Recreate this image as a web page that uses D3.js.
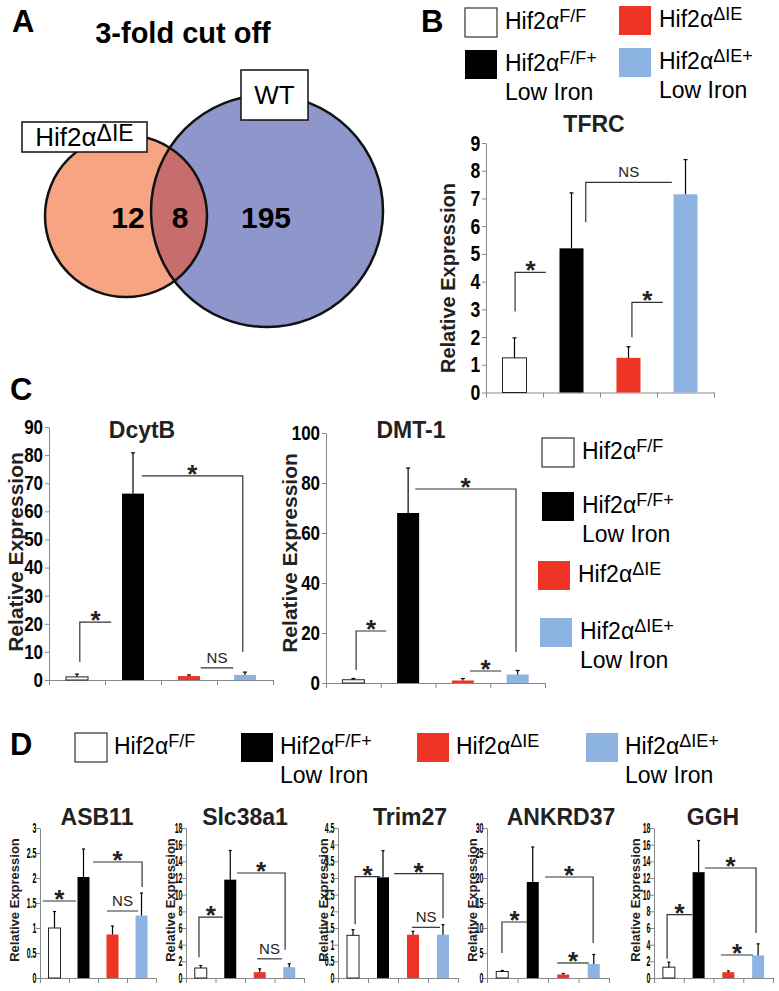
<!DOCTYPE html>
<html>
<head>
<meta charset="utf-8">
<script src="https://cdn.jsdelivr.net/npm/d3@7"></script>
<style>
  body { margin: 0; background: #fff; }
  svg { display: block; font-family: "Liberation Sans", Arial, sans-serif; }
</style>
</head>
<body>
<svg id="fig" width="779" height="991"></svg>
<script>
// ---- data ----
var groupBase = ["Hif2α", "Hif2α", "Hif2α", "Hif2α"];
var groupSup = ["F/F", "F/F+", "ΔIE", "ΔIE+"];
var groupLine2 = ["", "Low Iron", "", "Low Iron"];
var groupColors = ["#ffffff", "#000000", "#ee3424", "#8db3e2"];

var vennBase = ["Hif2α", "WT"];
var vennSup = ["ΔIE", ""];
var vennCounts = [12, 8, 195];   // only left, overlap, only right

var tfrcMean = [1.25, 5.2, 1.25, 7.15];
var tfrcSd = [0.72, 2.0, 0.4, 1.25];
var tfrcTicks = [0, 1, 2, 3, 4, 5, 6, 7, 8, 9];

var dcytbMean = [1.1, 66.3, 1.4, 1.8];
var dcytbSd = [1.0, 14.5, 0.4, 1.0];
var dcytbTicks = [0, 10, 20, 30, 40, 50, 60, 70, 80, 90];

var dmt1Mean = [1.3, 68, 1.0, 3.4];
var dmt1Sd = [0.5, 18, 0.8, 1.6];
var dmt1Ticks = [0, 20, 40, 60, 80, 100];

var asb11Mean = [1.0, 2.02, 0.87, 1.25];
var asb11Sd = [0.33, 0.56, 0.17, 0.45];
var asb11Ticks = [0, 0.5, 1, 1.5, 2, 2.5, 3];

var slcMean = [1.2, 11.8, 0.7, 1.3];
var slcSd = [0.3, 3.5, 0.4, 0.4];
var slcTicks = [0, 2, 4, 6, 8, 10, 12, 14, 16, 18];

var trimMean = [1.28, 3.02, 1.3, 1.3];
var trimSd = [0.17, 0.8, 0.1, 0.3];
var trimTicks = [0, 0.5, 1, 1.5, 2, 2.5, 3, 3.5, 4, 4.5];

var ankMean = [1.3, 19.2, 0.7, 2.8];
var ankSd = [0.2, 7, 0.2, 1.9];
var ankTicks = [0, 5, 10, 15, 20, 25, 30];

var gghMean = [1.3, 12.7, 0.7, 2.7];
var gghSd = [0.6, 3.8, 0.15, 1.4];
var gghTicks = [0, 2, 4, 6, 8, 10, 12, 14, 16, 18];

// significance brackets, x in category units (0..4), y in data units
var tfrcSig = [
  {x1: 0.51, x2: 1.05, y: 4.33, drop: 2.92, side: "L", label: "*"},
  {x1: 2.56, x2: 3.1, y: 3.25, drop: 1.99, side: "L", label: "*"},
  {x1: 1.75, x2: 3.26, y: 7.58, drop: 6.14, side: "L", label: "NS"}
];
var dcytbSig = [
  {x1: 0.55, x2: 1.11, y: 20.6, drop: 6.4, side: "L", label: "*"},
  {x1: 1.66, x2: 3.46, y: 72.6, drop: 10, side: "R", label: "*"},
  {x1: 2.71, x2: 3.29, y: 4.3, side: "H", label: "NS"}
];
var dmt1Sig = [
  {x1: 0.55, x2: 1.1, y: 20.8, drop: 5.2, side: "L", label: "*"},
  {x1: 1.63, x2: 3.47, y: 77.6, drop: 12.4, side: "R", label: "*"},
  {x1: 2.63, x2: 3.2, y: 4.8, side: "H", label: "*"}
];
var asb11Sig = [
  {x1: 0.1, x2: 1.24, y: 1.54, side: "H", label: "*"},
  {x1: 1.83, x2: 3.52, y: 2.32, drop: 1.82, side: "R", label: "*"},
  {x1: 2.31, x2: 3.38, y: 1.34, side: "H", label: "NS"}
];
var slcSig = [
  {x1: 0.44, x2: 1.25, y: 7.3, drop: 2.5, side: "L", label: "*"},
  {x1: 1.73, x2: 3.36, y: 12.6, drop: 3.4, side: "R", label: "*"},
  {x1: 2.41, x2: 3.25, y: 2.3, side: "H", label: "NS"}
];
var trimSig = [
  {x1: 0.57, x2: 1.4, y: 3.04, drop: 1.61, side: "L", label: "*"},
  {x1: 1.87, x2: 3.5, y: 3.13, drop: 1.79, side: "R", label: "*"},
  {x1: 2.47, x2: 3.4, y: 1.52, side: "H", label: "NS"}
];
var ankSig = [
  {x1: 0.49, x2: 1.31, y: 11.2, drop: 5, side: "L", label: "*"},
  {x1: 1.9, x2: 3.48, y: 20.2, drop: 7, side: "R", label: "*"},
  {x1: 2.3, x2: 3.34, y: 3, side: "H", label: "*"}
];
var gghSig = [
  {x1: 0.44, x2: 1.28, y: 7.6, drop: 2.3, side: "L", label: "*"},
  {x1: 1.71, x2: 3.43, y: 13.2, drop: 5.4, side: "R", label: "*"},
  {x1: 2.25, x2: 3.33, y: 2.76, side: "H", label: "*"}
];

// ---- drawing ----
var svg = d3.select("#fig");
var NARROW = "'Liberation Sans Narrow', 'Liberation Sans', Arial, sans-serif";

function panelLetter(t, x, y) {
  svg.append("text").attr("x", x).attr("y", y).text(t)
    .attr("font-size", 31).attr("font-weight", "bold");
}

panelLetter("A", 12, 32);
panelLetter("B", 421, 32);
panelLetter("C", 10, 400);
panelLetter("D", 10, 755);

// ---- panel A: venn ----
var cL = {x: 126, y: 216, r: 81}, cR = {x: 267, y: 211, r: 116};

svg.append("text").attr("x", 183).attr("y", 43).attr("text-anchor", "middle")
  .attr("font-size", 29).attr("font-weight", "bold").text("3-fold cut off");

svg.append("defs").append("clipPath").attr("id", "clipWT")
  .append("circle").attr("cx", cR.x).attr("cy", cR.y).attr("r", cR.r);

svg.append("circle").attr("cx", cL.x).attr("cy", cL.y).attr("r", cL.r).attr("fill", "#f6a482");
svg.append("circle").attr("cx", cR.x).attr("cy", cR.y).attr("r", cR.r).attr("fill", "#8f96cb");
svg.append("circle").attr("cx", cL.x).attr("cy", cL.y).attr("r", cL.r).attr("fill", "#c76d6d")
  .attr("clip-path", "url(#clipWT)");
[cL, cR].forEach(function(c) {
  svg.append("circle").attr("cx", c.x).attr("cy", c.y).attr("r", c.r)
    .attr("fill", "none").attr("stroke", "#111").attr("stroke-width", 2.5);
});

var countX = [128, 180, 266];
countX.forEach(function(x, i) {
  svg.append("text").attr("x", x).attr("y", 228).attr("text-anchor", "middle")
    .attr("font-size", 30).attr("font-weight", "bold").text(vennCounts[i]);
});

var vennBoxes = [{x: 22, y: 122, w: 125, h: 30}, {x: 241, y: 70, w: 67, h: 50}];
vennBoxes.forEach(function(b, i) {
  svg.append("rect").attr("x", b.x).attr("y", b.y).attr("width", b.w).attr("height", b.h)
    .attr("fill", "#fff").attr("stroke", "#111").attr("stroke-width", 1.5);
  var t = svg.append("text").attr("x", b.x + b.w / 2).attr("y", b.y + b.h / 2 + 9)
    .attr("text-anchor", "middle").attr("font-size", 26);
  t.append("tspan").text(vennBase[i]);
  if (vennSup[i]) t.append("tspan").attr("dy", -5).attr("font-size", 23).text(vennSup[i]);
});

// ---- legends ----
function legend(items, fs, supFs, dx) {
  items.forEach(function(p, i) {
    svg.append("rect").attr("x", p.x).attr("y", p.y).attr("width", 32).attr("height", 29)
      .attr("fill", groupColors[i]).attr("stroke", i === 0 ? "#333" : "none").attr("stroke-width", 1.2);
    var t = svg.append("text").attr("x", p.x + dx).attr("y", p.y + 21).attr("font-size", fs);
    t.append("tspan").text(groupBase[i]);
    t.append("tspan").attr("dy", -7).attr("font-size", supFs).text(groupSup[i]);
    if (groupLine2[i]) {
      svg.append("text").attr("x", p.x + dx).attr("y", p.y + 50).attr("font-size", fs).text(groupLine2[i]);
    }
  });
}

legend([{x: 465, y: 8}, {x: 465, y: 50}, {x: 619, y: 6}, {x: 619, y: 48}], 23, 18, 40);
legend([{x: 542, y: 438}, {x: 542, y: 492}, {x: 538, y: 561}, {x: 540, y: 618}], 23, 18, 40);
legend([{x: 75, y: 733}, {x: 241, y: 733}, {x: 417, y: 733}, {x: 586, y: 733}], 23, 18, 39);

// ---- bar charts ----
function barChart(c) {
  var g = svg.append("g");
  var x = d3.scaleLinear().domain([0, 4]).range([c.left, c.left + c.width]);
  var y = d3.scaleLinear().domain([0, c.ticks[c.ticks.length - 1]]).range([c.bottom, c.top]);

  var ya = g.append("g").attr("transform", "translate(" + c.left + ",0)")
    .call(d3.axisLeft(y).tickValues(c.ticks).tickSize(4).tickSizeOuter(0).tickPadding(3)
      .tickFormat(function(d) { return String(d); }));
  ya.select(".domain").attr("stroke", "#888");
  ya.selectAll(".tick line").attr("stroke", "#888");
  ya.selectAll(".tick text")
    .attr("font-family", NARROW).attr("font-weight", "bold")
    .attr("font-size", c.tickFs).attr("fill", "#000")
    .attr("transform", "scale(" + c.tickSx + ",1)");

  var xa = g.append("g").attr("transform", "translate(0," + c.bottom + ")")
    .call(d3.axisBottom(x).tickValues([0, 1, 2, 3, 4]).tickSize(5).tickSizeOuter(0).tickFormat(""));
  xa.select(".domain").attr("stroke", "#888");
  xa.selectAll(".tick line").attr("stroke", "#888");

  g.selectAll("rect.bar").data(c.mean).join("rect").attr("class", "bar")
    .attr("x", function(d, i) { return x(i + 0.5) - c.barW / 2; })
    .attr("y", function(d) { return y(d); })
    .attr("width", c.barW)
    .attr("height", function(d) { return y(0) - y(d); })
    .attr("fill", function(d, i) { return groupColors[i]; })
    .attr("stroke", function(d, i) { return i === 0 ? "#222" : "none"; })
    .attr("stroke-width", 1);

  c.mean.forEach(function(m, i) {
    var cx = x(i + 0.5), top = y(m + c.sd[i]);
    g.append("line").attr("x1", cx).attr("x2", cx).attr("y1", y(m)).attr("y2", top)
      .attr("stroke", "#000").attr("stroke-width", 1.2);
    g.append("line").attr("x1", cx - c.cap / 2).attr("x2", cx + c.cap / 2).attr("y1", top).attr("y2", top)
      .attr("stroke", "#000").attr("stroke-width", 1.2);
  });

  c.sig.forEach(function(s) {
    var x1 = x(s.x1), x2 = x(s.x2), yy = y(s.y), p;
    if (s.side === "L") p = "M" + x1 + "," + y(s.drop) + "V" + yy + "H" + x2;
    else if (s.side === "R") p = "M" + x1 + "," + yy + "H" + x2 + "V" + y(s.drop);
    else p = "M" + x1 + "," + yy + "H" + x2;
    g.append("path").attr("d", p).attr("fill", "none").attr("stroke", "#333").attr("stroke-width", 1.2);
    var t = g.append("text").attr("x", (x1 + x2) / 2).attr("text-anchor", "middle").text(s.label);
    if (s.label === "NS") {
      t.attr("y", yy - 5).attr("font-family", NARROW).attr("font-size", 15).attr("fill", "#222");
    } else {
      t.attr("y", yy + 7).attr("font-size", 26).attr("font-weight", "bold").attr("fill", "#222");
    }
  });

  g.append("text").attr("transform", "translate(" + c.labelX + "," + c.labelY + ") rotate(-90)")
    .attr("text-anchor", "middle").attr("dominant-baseline", "central")
    .attr("font-size", c.labelFs).attr("font-weight", "bold").attr("fill", "#222")
    .text("Relative Expression");

  g.append("text").attr("x", c.titleX).attr("y", c.titleY).attr("text-anchor", "middle")
    .attr("font-size", c.titleFs).attr("font-weight", "bold").attr("fill", "#222").text(c.name);
}

var big = {barW: 24, cap: 4, tickFs: 22, tickSx: 0.8, labelFs: 20, titleFs: 23};
var small = {top: 828, bottom: 978, barW: 12, cap: 3, tickFs: 14, tickSx: 0.5, labelFs: 13,
  labelY: 900, titleY: 825, titleFs: 23};

var charts = [
  Object.assign({}, big, {name: "TFRC", mean: tfrcMean, sd: tfrcSd, ticks: tfrcTicks, sig: tfrcSig,
    left: 486, width: 228, top: 143, bottom: 392.5, labelX: 448, labelY: 278, titleX: 594, titleY: 132}),
  Object.assign({}, big, {name: "DcytB", mean: dcytbMean, sd: dcytbSd, ticks: dcytbTicks, sig: dcytbSig,
    left: 49, width: 224, top: 427, bottom: 680, barW: 22, tickFs: 20, tickSx: 0.85, labelFs: 21,
    labelX: 15, labelY: 552, titleX: 142, titleY: 438}),
  Object.assign({}, big, {name: "DMT-1", mean: dmt1Mean, sd: dmt1Sd, ticks: dmt1Ticks, sig: dmt1Sig,
    left: 326, width: 219, top: 433, bottom: 683, barW: 22, tickFs: 20, tickSx: 0.85, labelFs: 21,
    labelX: 289, labelY: 553, titleX: 411, titleY: 438}),
  Object.assign({}, small, {name: "ASB11", mean: asb11Mean, sd: asb11Sd, ticks: asb11Ticks, sig: asb11Sig,
    left: 40, width: 116, labelX: 14, titleX: 97}),
  Object.assign({}, small, {name: "Slc38a1", mean: slcMean, sd: slcSd, ticks: slcTicks, sig: slcSig,
    left: 186, width: 118, labelX: 170, titleX: 245}),
  Object.assign({}, small, {name: "Trim27", mean: trimMean, sd: trimSd, ticks: trimTicks, sig: trimSig,
    left: 338, width: 120, labelX: 323, titleX: 410}),
  Object.assign({}, small, {name: "ANKRD37", mean: ankMean, sd: ankSd, ticks: ankTicks, sig: ankSig,
    left: 487, width: 122, labelX: 472, titleX: 561}),
  Object.assign({}, small, {name: "GGH", mean: gghMean, sd: gghSd, ticks: gghTicks, sig: gghSig,
    left: 654, width: 119, labelX: 635, titleX: 713})
];

charts.forEach(barChart);
</script>
</body>
</html>
